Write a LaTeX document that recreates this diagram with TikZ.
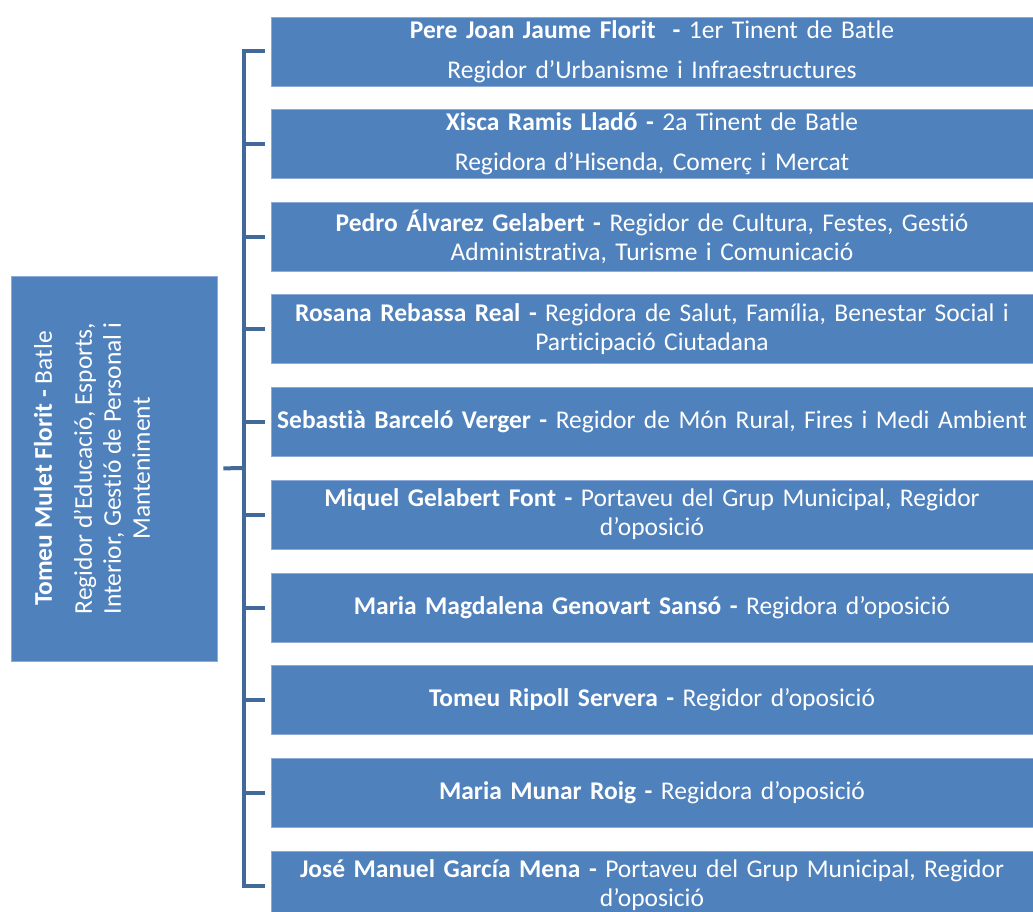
\documentclass[tikz,border=0pt]{standalone}
\usepackage{fontspec}
\setmainfont{Carlito}[Ligatures=NoCommon]
\definecolor{boxblue}{HTML}{4F81BD}
\definecolor{boxedge}{HTML}{8EAADB}
\definecolor{busblue}{HTML}{41699A}
\tikzset{
    member/.style={rectangle, fill=boxblue, draw=boxedge, line width=0.8pt,
        text=white, align=center, text width=756pt, inner xsep=3pt, inner ysep=0pt,
        minimum height=69pt, font=\fontsize{25.5}{29}\selectfont},
    bus/.style={draw=busblue, line width=4pt}
}
\begin{document}
\begin{tikzpicture}[x=1pt,y=-1pt]
        \useasboundingbox (0,0) rectangle (1033,912);

        % Define the mayor
        \node[rectangle, fill=boxblue, draw=boxedge, line width=0.8pt,
            minimum width=206pt, minimum height=385pt] (mayor) at (114,468.5) {};
        \node[rotate=90, text=white, align=center, font=\fontsize{25.5}{29}\selectfont] (mayortext) at (92,468.5)
            {\textbf{Tomeu Mulet Florit -} Batle\\[11pt]
             Regidor d’Educació, Esports,\\ Interior, Gestió de Personal i\\ Manteniment};

        % Define the members
        \node[member] (r1) at (652,51.5) {\textbf{Pere Joan Jaume Florit\ \ -} 1er Tinent de Batle\\[11pt]
            Regidor d’Urbanisme i Infraestructures};
        \node[member] (r2) at (652,144) {\textbf{Xisca Ramis Lladó -} 2a Tinent de Batle\\[11pt]
            Regidora d’Hisenda, Comerç i Mercat};
        \node[member] (r3) at (652,236.5) {\textbf{Pedro Álvarez Gelabert -} Regidor de Cultura, Festes, Gestió\\
            Administrativa, Turisme i Comunicació};
        \node[member] (r4) at (652,329) {\textbf{Rosana Rebassa Real -} Regidora de Salut, Família, Benestar Social i\\
            Participació Ciutadana};
        \node[member] (r5) at (652,422) {\textbf{Sebastià Barceló Verger -} Regidor de Món Rural, Fires i Medi Ambient};
        \node[member] (r6) at (652,514.5) {\textbf{Miquel Gelabert Font -} Portaveu del Grup Municipal, Regidor\\
            d’oposició};
        \node[member] (r7) at (652,607.5) {\textbf{Maria Magdalena Genovart Sansó -} Regidora d’oposició};
        \node[member] (r8) at (652,700) {\textbf{Tomeu Ripoll Servera -} Regidor d’oposició};
        \node[member] (r9) at (652,792.5) {\textbf{Maria Munar Roig -} Regidora d’oposició};
        \node[member] (r10) at (652,885.5) {\textbf{José Manuel García Mena -} Portaveu del Grup Municipal, Regidor\\
            d’oposició};

        \coordinate (hub) at (244,468);

        % Draw connectors
        \draw[bus, shorten <=6pt] (mayor.east) -- (hub);
        \draw[bus, shorten <=6pt, shorten >=6pt] (r1.west) -| (hub) |- (r10.west);
        \foreach \i in {2,...,9}
            \draw[bus, shorten >=6pt] (hub |- r\i.west) -- (r\i.west);
    \end{tikzpicture}
\end{document}
